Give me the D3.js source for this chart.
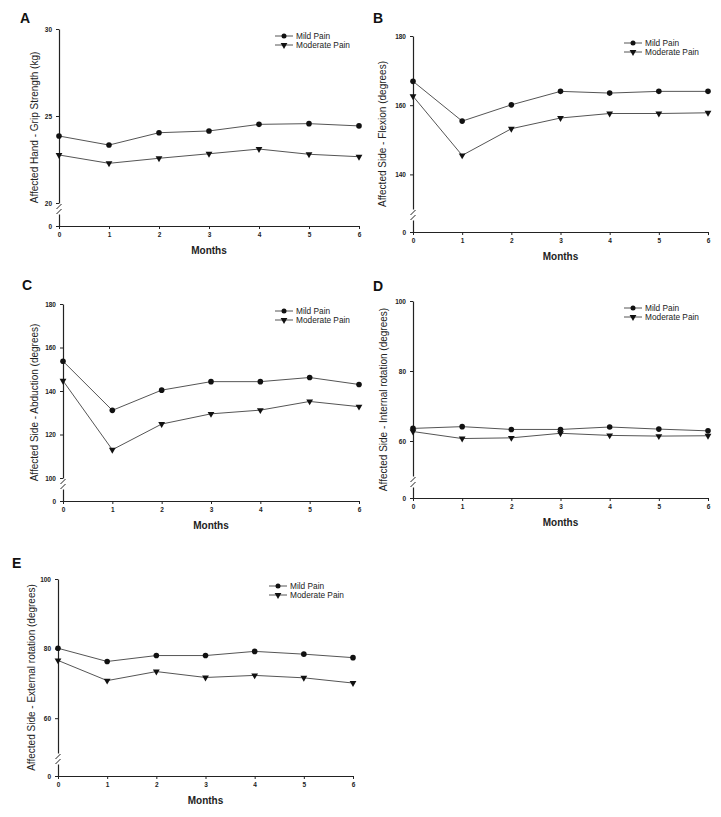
<!DOCTYPE html>
<html>
<head>
<meta charset="utf-8">
<script src="https://cdn.jsdelivr.net/npm/d3@7/dist/d3.min.js"></script>
<style>
  html, body { margin: 0; padding: 0; background: #fff; }
  svg { display: block; font-family: "Liberation Sans", Arial, sans-serif; }
</style>
</head>
<body>
<svg id="chart" width="721" height="817"></svg>
<script>
// ---------------- DATA ----------------
const months = [0, 1, 2, 3, 4, 5, 6];
const seriesNames = ["Mild Pain", "Moderate Pain"];
const panelLetters = ["A", "B", "C", "D", "E"];
const yLabels = [
  "Affected Hand - Grip Strength (kg)",
  "Affected Side - Flexion (degrees)",
  "Affected Side - Abduction (degrees)",
  "Affected Side - Internal rotation (degrees)",
  "Affected Side - External rotation (degrees)"
];
const xLabel = "Months";

const mildA = [23.85, 23.33, 24.04, 24.14, 24.52, 24.56, 24.43];
const modA  = [22.76, 22.28, 22.57, 22.83, 23.10, 22.80, 22.66];
const mildB = [166.9, 155.4, 160.1, 164.0, 163.5, 164.0, 164.0];
const modB  = [162.6, 145.5, 153.2, 156.3, 157.6, 157.6, 157.8];
const mildC = [153.7, 131.1, 140.4, 144.3, 144.3, 146.2, 143.0];
const modC  = [144.7, 113.0, 124.8, 129.5, 131.2, 135.2, 132.8];
const mildD = [63.6, 64.1, 63.3, 63.3, 64.0, 63.4, 62.9];
const modD  = [62.7, 60.7, 60.9, 62.2, 61.6, 61.4, 61.5];
const mildE = [80.1, 76.3, 78.0, 78.0, 79.2, 78.4, 77.4];
const modE  = [76.6, 70.8, 73.4, 71.7, 72.3, 71.6, 70.1];

const yTicksA = [20, 25, 30];
const yTicksB = [140, 160, 180];
const yTicksC = [100, 120, 140, 160, 180];
const yTicksD = [60, 80, 100];
const yTicksE = [60, 80, 100];

const yDomainA = [20, 30];
const yDomainB = [130, 180];
const yDomainC = [100, 180];
const yDomainD = [50, 100];
const yDomainE = [50, 100];
const zeroTick = [0];

// ---------------- LAYOUT ----------------
const layouts = [
  { x0: 59,  x6: 359, yTop: 29,  yLo: 203, yZero: 226, labDx: -25, letterX: 20,  letterY: 18 },
  { x0: 413, x6: 708, yTop: 36,  yLo: 209, yZero: 232, labDx: -31, letterX: 373, letterY: 18 },
  { x0: 63,  x6: 359, yTop: 304, yLo: 478, yZero: 501, labDx: -29, letterX: 22,  letterY: 285 },
  { x0: 413, x6: 708, yTop: 301, yLo: 476, yZero: 498, labDx: -30, letterX: 373, letterY: 286 },
  { x0: 58,  x6: 353, yTop: 579, yLo: 753, yZero: 776, labDx: -27, letterX: 12,  letterY: 563 }
];

const panels = [
  { mild: mildA, mod: modA, ticks: yTicksA, domain: yDomainA },
  { mild: mildB, mod: modB, ticks: yTicksB, domain: yDomainB },
  { mild: mildC, mod: modC, ticks: yTicksC, domain: yDomainC },
  { mild: mildD, mod: modD, ticks: yTicksD, domain: yDomainD },
  { mild: mildE, mod: modE, ticks: yTicksE, domain: yDomainE }
];

const svg = d3.select("#chart");
const lineColor = "#555";
const triangle = d3.symbol().type(d3.symbolTriangle).size(20);
const intFmt = d3.format("d");

panels.forEach((p, i) => {
  const L = layouts[i];
  const g = svg.append("g");

  const x = d3.scaleLinear().domain([months[0], months[months.length - 1]]).range([L.x0, L.x6]);
  const y = d3.scaleLinear().domain(p.domain).range([L.yLo, L.yTop]);
  const yZeroScale = d3.scaleLinear().domain([0, 1]).range([L.yZero, L.yLo + 11]);

  // Upper y axis
  const ya = g.append("g").attr("transform", `translate(${L.x0},0)`)
    .call(d3.axisLeft(y).tickValues(p.ticks).tickFormat(intFmt).tickSize(3).tickSizeOuter(0).tickPadding(4));
  // Lower y axis (zero)
  const yb = g.append("g").attr("transform", `translate(${L.x0},0)`)
    .call(d3.axisLeft(yZeroScale).tickValues(zeroTick).tickFormat(intFmt).tickSize(3).tickSizeOuter(0).tickPadding(4));
  // X axis
  const xa = g.append("g").attr("transform", `translate(0,${L.yZero})`)
    .call(d3.axisBottom(x).tickValues(months).tickFormat(intFmt).tickSize(3).tickSizeOuter(0).tickPadding(3));

  [ya, yb, xa].forEach(a => {
    a.selectAll("path.domain").attr("stroke", "#222").attr("stroke-width", 1.2);
    a.selectAll(".tick line").attr("stroke", "#222");
    a.selectAll(".tick text").attr("font-size", 6.5).attr("font-weight", "bold")
      .attr("fill", "#222").attr("font-family", "Liberation Sans, Arial, sans-serif");
  });

  // Axis break slashes
  g.append("line").attr("x1", L.x0 - 2.5).attr("y1", L.yLo + 6).attr("x2", L.x0 + 2.5).attr("y2", L.yLo + 1)
    .attr("stroke", "#222").attr("stroke-width", 1);
  g.append("line").attr("x1", L.x0 - 2.5).attr("y1", L.yLo + 11).attr("x2", L.x0 + 2.5).attr("y2", L.yLo + 6)
    .attr("stroke", "#222").attr("stroke-width", 1);

  // Lines
  const line = d3.line().x((d, j) => x(months[j])).y(d => y(d));
  [p.mild, p.mod].forEach(vals => {
    g.append("path").datum(vals).attr("d", line)
      .attr("fill", "none").attr("stroke", lineColor).attr("stroke-width", 1);
  });

  // Markers
  g.selectAll(null).data(p.mild).enter().append("circle")
    .attr("cx", (d, j) => x(months[j])).attr("cy", d => y(d)).attr("r", 2.8).attr("fill", "#111");
  g.selectAll(null).data(p.mod).enter().append("path")
    .attr("d", triangle)
    .attr("transform", (d, j) => `translate(${x(months[j])},${y(d)}) rotate(180)`)
    .attr("fill", "#111");

  // Legend
  const lx = L.x6 - 75;
  const ly = L.yTop + 7;
  seriesNames.forEach((name, k) => {
    const yy = ly + k * 9;
    g.append("line").attr("x1", lx - 9).attr("x2", lx + 9).attr("y1", yy).attr("y2", yy)
      .attr("stroke", lineColor).attr("stroke-width", 1);
    if (k === 0) {
      g.append("circle").attr("cx", lx).attr("cy", yy).attr("r", 2.5).attr("fill", "#111");
    } else {
      g.append("path").attr("d", triangle).attr("transform", `translate(${lx},${yy}) rotate(180)`).attr("fill", "#111");
    }
    g.append("text").attr("x", lx + 12).attr("y", yy).attr("dy", "0.35em")
      .attr("font-size", 8.3).attr("fill", "#222").text(name);
  });

  // Y axis label
  const cy = (L.yTop + L.yZero) / 2;
  g.append("text")
    .attr("transform", `translate(${L.x0 + L.labDx},${cy}) rotate(-90)`)
    .attr("text-anchor", "middle").attr("dy", "0.35em")
    .attr("font-size", 10).attr("fill", "#222").text(yLabels[i]);

  // X axis label
  g.append("text").attr("x", (L.x0 + L.x6) / 2).attr("y", L.yZero + 24).attr("dy", "0.35em")
    .attr("text-anchor", "middle").attr("font-size", 10).attr("font-weight", "bold")
    .attr("fill", "#222").text(xLabel);

  // Panel letter
  g.append("text").attr("x", L.letterX).attr("y", L.letterY).attr("dy", "0.35em")
    .attr("font-size", 14).attr("font-weight", "bold").attr("fill", "#111").text(panelLetters[i]);
});
</script>
</body>
</html>
